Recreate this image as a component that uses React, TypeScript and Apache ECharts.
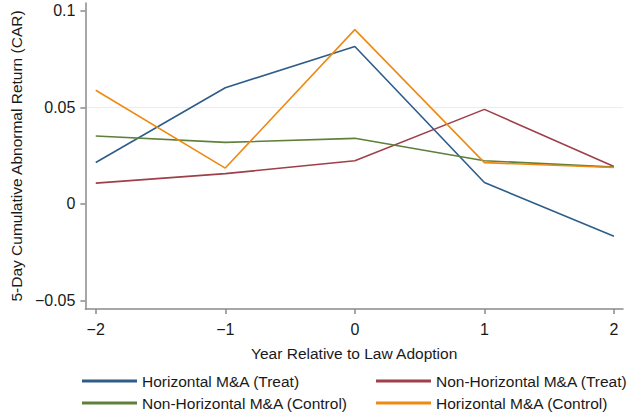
import React, { useEffect, useRef } from "react";
import * as echarts from "echarts";

const years = [-2, -1, 0, 1, 2];
const horizTreat = [0.0215, 0.0602, 0.0816, 0.0111, -0.0167];
const nonHorizTreat = [0.0108, 0.0157, 0.0224, 0.049, 0.0194];
const nonHorizControl = [0.0352, 0.0319, 0.034, 0.0224, 0.0191];
const horizControl = [0.0589, 0.0186, 0.0903, 0.0214, 0.0189];
const yTicks = [-0.05, 0, 0.05, 0.1];
const gridTicks = [0, 0.05, 0.1];
const names = [
  "Horizontal M&A (Treat)",
  "Non-Horizontal M&A (Treat)",
  "Non-Horizontal M&A (Control)",
  "Horizontal M&A (Control)",
];
const colors = ["#2f5d89", "#9e3f4a", "#5e803a", "#ee8a14"];

const FONT = "Liberation Sans, Arial, Helvetica, sans-serif";
const TXT = "#1a1a1a";
const AX = "#8a8a8a";

const fmt = (v: number) => {
  const s = String(Math.round(v * 1000) / 1000);
  return s.replace("-", "\u2212");
};

export default function App() {
  const ref = useRef<HTMLDivElement>(null);
  useEffect(() => {
    if (!ref.current) return;
    const chart = echarts.init(ref.current, null, { renderer: "svg" });
    const all = [horizTreat, nonHorizTreat, nonHorizControl, horizControl];
    const series: any[] = all.map((d, i) => ({
      name: names[i],
      type: "line",
      data: years.map((x, j) => [x, d[j]]),
      showSymbol: false,
      symbol: "none",
      lineStyle: { width: 1.6, color: colors[i] },
      itemStyle: { color: colors[i] },
      z: 3,
    }));
    const legendPos = [
      { left: 77, top: 366 },
      { left: 371, top: 366 },
      { left: 77, top: 388 },
      { left: 371, top: 388 },
    ];
    const legends = names.map((n, i) => ({
      left: legendPos[i].left,
      top: legendPos[i].top,
      itemWidth: 55,
      itemHeight: 3,
      icon: "rect",
      data: [n],
      textStyle: { fontFamily: FONT, fontSize: 15.5, color: TXT, lineHeight: 20 },
    }));
    chart.setOption({
      animation: false,
      backgroundColor: "#ffffff",
      grid: { left: 82, right: 4, top: 3, bottom: 105, containLabel: false },
      legend: legends,
      xAxis: {
        type: "value",
        min: -2.08,
        max: 2.07,
        name: "Year Relative to Law Adoption",
        nameLocation: "middle",
        nameGap: 36,
        nameTextStyle: { fontFamily: FONT, fontSize: 15.5, color: TXT },
        axisLine: { show: true, onZero: false, lineStyle: { color: AX, width: 1.5 } },
        axisTick: { show: true, length: 5, customValues: years, lineStyle: { color: AX, width: 1.5 } },
        axisLabel: {
          customValues: years,
          formatter: fmt,
          margin: 12,
          fontFamily: FONT,
          fontSize: 16,
          color: TXT,
        },
        splitLine: { show: false },
      },
      yAxis: [
        {
          type: "value",
          min: -0.0544,
          max: 0.1041,
          splitNumber: 3,
          name: "5-Day Cumulative Abnormal Return (CAR)",
          nameLocation: "middle",
          nameGap: 57,
          nameTextStyle: { fontFamily: FONT, fontSize: 15.5, color: TXT },
          axisLine: { show: true, onZero: false, lineStyle: { color: AX, width: 1.5 } },
          axisTick: { show: true, length: 5, customValues: yTicks, lineStyle: { color: AX, width: 1.5 } },
          axisLabel: {
            customValues: yTicks,
            formatter: fmt,
            margin: 10,
            fontFamily: FONT,
            fontSize: 16,
            color: TXT,
          },
          splitLine: { show: false },
        },
        {
          type: "value",
          min: -0.0544,
          max: 0.1041,
          splitNumber: 3,
          position: "left",
          axisLine: { show: false, onZero: false },
          axisTick: { show: false, customValues: gridTicks },
          axisLabel: { show: false, customValues: gridTicks },
          splitLine: {
            show: true,
            showMinLine: false,
            showMaxLine: false,
            lineStyle: { color: "#e6eef0", width: 1.2 },
          },
        },
      ],
      series,
    });
    return () => chart.dispose();
  }, []);
  return <div ref={ref} style={{ width: 627, height: 414, position: "absolute", left: 0, top: 0 }} />;
}
